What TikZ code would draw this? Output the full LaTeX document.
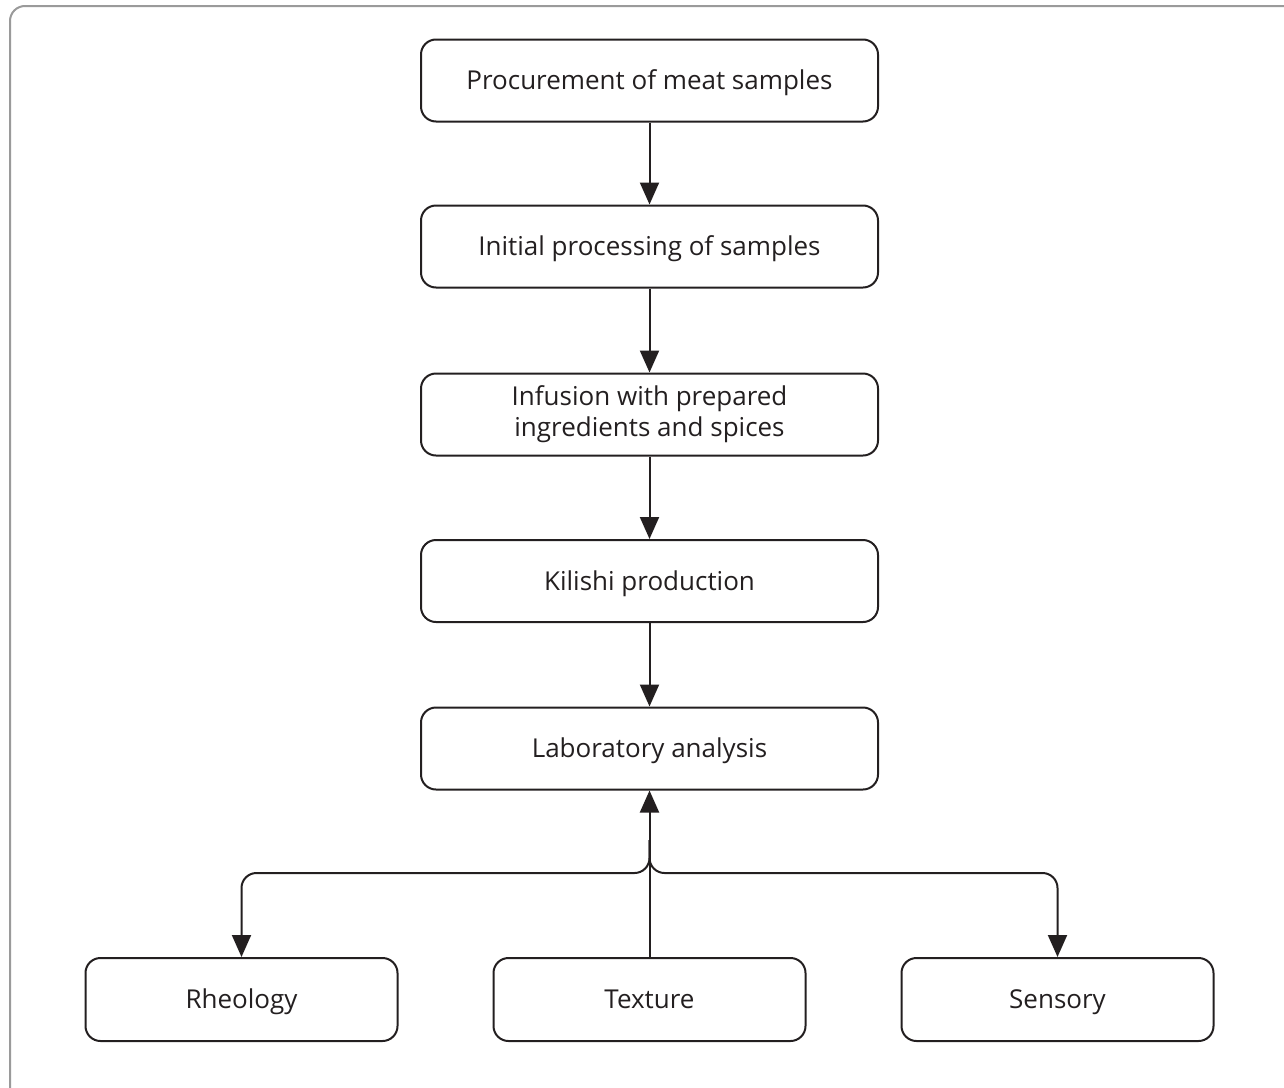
\documentclass[tikz,border=0pt]{standalone}
\usepackage{fontspec}
\setmainfont{Open Sans}
\usetikzlibrary{arrows.meta,calc}
\definecolor{ink}{HTML}{231F20}
\definecolor{framegray}{HTML}{9A9A9A}
\begin{document}
\begin{tikzpicture}[x=1pt,y=-1pt,
  stepbox/.style={draw=ink, line width=2pt, rounded corners=15pt, minimum width=457pt, minimum height=82pt, align=center, text=ink, font=\fontsize{26}{31}\selectfont, inner sep=0pt, text height=18.5pt, text depth=0pt},
  twoline/.style={text height=, text depth=},
  leafbox/.style={stepbox, minimum width=312pt, minimum height=83pt},
  arr/.style={draw=ink, line width=2pt, -{Triangle[length=22pt,width=19pt]}}]
\useasboundingbox (0,0) rectangle (1284,1087);
\begin{scope}
\clip (0,0) rectangle (1284,1087);
\draw[framegray, line width=2pt, rounded corners=15pt] (10,6) rectangle (1320,1120);
\end{scope}
\node[stepbox] (proc) at (649.5,80.5) {Procurement of meat samples};
\node[stepbox] (init) at (649.5,246.5) {Initial processing of samples};
\node[stepbox, twoline] (inf) at (649.5,414.5) {Infusion with prepared\\ingredients and spices};
\node[stepbox] (kil) at (649.5,581) {Kilishi production};
\node[stepbox] (lab) at (649.5,748.5) {Laboratory analysis};
\node[leafbox] (rhe) at (241.5,999.5) {Rheology};
\node[leafbox] (tex) at (649.5,999.5) {Texture};
\node[leafbox] (sen) at (1057.5,999.5) {Sensory};
\draw[arr] (proc) -- (init);
\draw[arr] (init) -- (inf);
\draw[arr] (inf) -- (kil);
\draw[arr] (kil) -- (lab);
\draw[arr] (tex) -- (lab);
\coordinate (j) at (649.5,840);
\coordinate (hl) at (241.5,873);
\coordinate (hr) at (1057.5,873);
\draw[arr, rounded corners=15pt] (j) |- (hl) -- (rhe.north);
\draw[arr, rounded corners=15pt] (j) |- (hr) -- (sen.north);
\end{tikzpicture}
\end{document}
